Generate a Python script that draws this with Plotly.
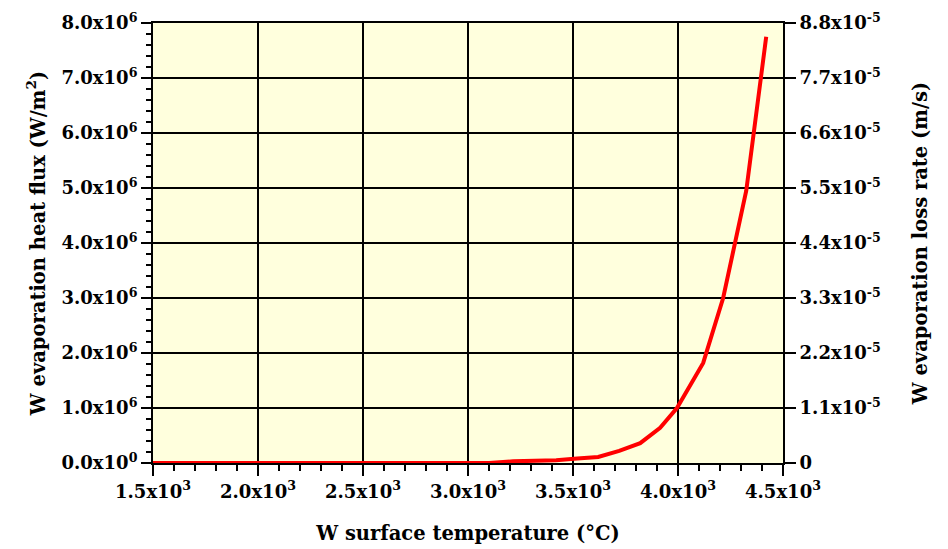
import plotly.graph_objects as go

# Data
temperature = [1500, 2000, 2500, 3000, 3100, 3215, 3420, 3520, 3620, 3720, 3820, 3915, 3995, 4120, 4215, 4325, 4420]
heat_flux = [0.0, 0.0, 0.0, 0.0, 0.0, 0.03e6, 0.05e6, 0.08e6, 0.11e6, 0.22e6, 0.36e6, 0.64e6, 1.0e6, 1.82e6, 3.0e6, 4.95e6, 7.75e6]

x_ticks = [1500, 2000, 2500, 3000, 3500, 4000, 4500]
x_labels = ["1.5x10<sup>3</sup>", "2.0x10<sup>3</sup>", "2.5x10<sup>3</sup>", "3.0x10<sup>3</sup>",
            "3.5x10<sup>3</sup>", "4.0x10<sup>3</sup>", "4.5x10<sup>3</sup>"]
y_ticks = [0, 1e6, 2e6, 3e6, 4e6, 5e6, 6e6, 7e6, 8e6]
y_labels = ["0.0x10<sup>0</sup>", "1.0x10<sup>6</sup>", "2.0x10<sup>6</sup>", "3.0x10<sup>6</sup>",
            "4.0x10<sup>6</sup>", "5.0x10<sup>6</sup>", "6.0x10<sup>6</sup>", "7.0x10<sup>6</sup>",
            "8.0x10<sup>6</sup>"]
y2_ticks = [0, 1.1e-5, 2.2e-5, 3.3e-5, 4.4e-5, 5.5e-5, 6.6e-5, 7.7e-5, 8.8e-5]
y2_labels = ["0", "1.1x10<sup>-5</sup>", "2.2x10<sup>-5</sup>", "3.3x10<sup>-5</sup>", "4.4x10<sup>-5</sup>",
             "5.5x10<sup>-5</sup>", "6.6x10<sup>-5</sup>", "7.7x10<sup>-5</sup>", "8.8x10<sup>-5</sup>"]

FONT = "DejaVu Serif"
tick_font = dict(family=FONT, size=18, color="black", weight="bold")
title_font = dict(family=FONT, size=19.5, color="black", weight="bold")

fig = go.Figure()
fig.add_trace(go.Scatter(x=temperature, y=heat_flux, mode="lines",
                         line=dict(color="#ff0000", width=4), showlegend=False,
                         cliponaxis=True))
# invisible trace to activate secondary axis
fig.add_trace(go.Scatter(x=[temperature[0]], y=[0], yaxis="y2", mode="markers",
                         marker=dict(opacity=0), showlegend=False, hoverinfo="skip"))

fig.update_layout(
    width=948, height=549,
    margin=dict(l=153, r=165, t=23, b=86),
    paper_bgcolor="white",
    plot_bgcolor="#ffffdd",
    xaxis=dict(range=[1500, 4500], tickvals=x_ticks, ticktext=x_labels,
               automargin=False,
               showgrid=True, gridcolor="black", gridwidth=2,
               showline=True, linecolor="black", linewidth=2, mirror=True,
               ticks="outside", ticklen=11, tickwidth=2, tickcolor="black",
               minor=dict(dtick=100, tick0=1500, ticks="outside", ticklen=6, tickwidth=2,
                          tickcolor="black", showgrid=False),
               tickfont=tick_font, zeroline=False,
               title=dict(text="W surface temperature (°C)", font=title_font, standoff=26)),
    yaxis=dict(range=[0, 8e6], tickvals=y_ticks, ticktext=y_labels,
               automargin=False,
               showgrid=True, gridcolor="black", gridwidth=2,
               showline=True, linecolor="black", linewidth=2, mirror=True,
               ticks="outside", ticklen=10, tickwidth=2, tickcolor="black",
               minor=dict(dtick=2e5, tick0=0, ticks="outside", ticklen=5, tickwidth=2,
                          tickcolor="black", showgrid=False),
               tickfont=tick_font, zeroline=False,
               title=dict(text="W evaporation heat flux (W/m<sup>2</sup>)", font=title_font, standoff=11)),
    yaxis2=dict(range=[0, 8.8e-5], tickvals=y2_ticks, ticktext=y2_labels,
                automargin=False,
                overlaying="y", side="right", showgrid=False,
                showline=True, linecolor="black", linewidth=2,
                ticks="outside", ticklen=11, tickwidth=2, tickcolor="black",
                tickfont=tick_font, zeroline=False,
                title=dict(text="W evaporation loss rate (m/s)", font=title_font, standoff=34)),
)

fig.write_html("out.html")
